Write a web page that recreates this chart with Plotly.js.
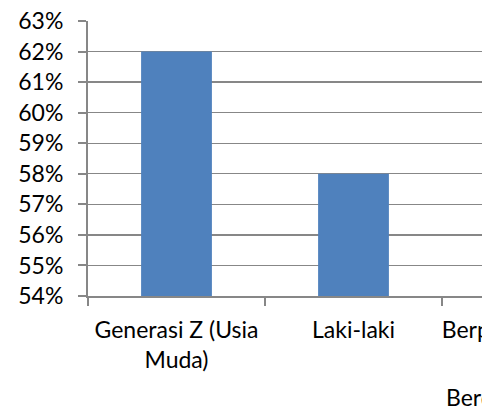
<!DOCTYPE html>
<html>
<head>
<meta charset="utf-8">
<script src="https://cdn.plot.ly/plotly-3.0.1.min.js"></script>
<style>
html,body{margin:0;padding:0;background:#fff;overflow:hidden;}
#clip{width:482px;height:410px;overflow:hidden;position:relative;clip-path:inset(0px 0px 0px 0px);}
#chart{width:700px;height:410px;}
</style>
</head>
<body>
<div id="clip"><div id="chart"></div></div>
<script>
const categories = ["Generasi Z (Usia<br>Muda)", "Laki-laki", "Berpendidikan S1<br>ke Atas"];
const values = [0.62, 0.58, null];
const yTickValues = [0.54,0.55,0.56,0.57,0.58,0.59,0.60,0.61,0.62,0.63];
const extraLabel = "Berdasarkan Karakteristik";

const FONT = {family: "Lato, 'Open Sans', sans-serif", size: 23, color: "#000"};
const GRID = "#878787";

Plotly.newPlot("chart", [{
  type: "bar",
  x: categories,
  y: values,
  marker: {color: "#4F81BD"},
  hoverinfo: "skip"
}], {
  width: 700, height: 410,
  margin: {l: 88, r: 81, t: 21, b: 114},
  paper_bgcolor: "#fff", plot_bgcolor: "#fff",
  font: FONT,
  bargap: 0.6,
  showlegend: false,
  xaxis: {
    type: "category",
    range: [-0.5, 2.5],
    tickangle: 0,
    showline: true, linecolor: GRID, linewidth: 2,
    ticks: "outside", tickson: "boundaries", ticklen: 8, tickcolor: GRID, tickwidth: 2,
    showgrid: false, zeroline: false,
    tickfont: FONT, ticklabelstandoff: 12
  },
  yaxis: {
    range: [0.54, 0.63],
    tickvals: yTickValues,
    tickformat: ".0%",
    showline: true, linecolor: GRID, linewidth: 2,
    ticks: "outside", ticklen: 8, tickcolor: GRID, tickwidth: 2,
    showgrid: true, gridcolor: GRID, gridwidth: 1.3,
    zeroline: false,
    tickfont: FONT, ticklabelstandoff: 10
  },
  annotations: [{
    text: extraLabel, xref: "x", yref: "paper",
    x: 1.51, y: -0.367, xanchor: "left", yanchor: "middle",
    showarrow: false, font: FONT
  }]
}, {displayModeBar: false, staticPlot: true});
</script>
</body>
</html>
